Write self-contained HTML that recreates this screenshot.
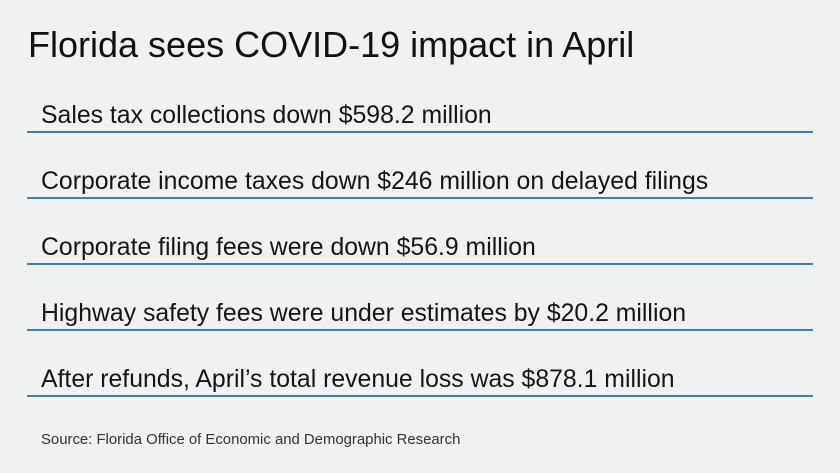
<!DOCTYPE html>
<html><head><meta charset="utf-8"><style>
body{margin:0;width:840px;height:473px;background:#f0f1f1;font-family:"Liberation Sans",sans-serif;position:relative;overflow:hidden;color:#111}
.t{position:absolute;left:28px;top:24px;font-size:36px;white-space:nowrap}
.i{position:absolute;left:41px;font-size:24.8px;white-space:nowrap;color:#151515}
.l{position:absolute;left:27px;width:786px;height:2px;background:#3f7db5}
.s{position:absolute;left:41px;top:432px;font-size:14.9px;color:#333}
</style></head><body>
<div class="t">Florida sees COVID-19 impact in April</div>
<div class="i" style="top:102px">Sales tax collections down $598.2 million</div><div class="l" style="top:131px"></div>
<div class="i" style="top:168px">Corporate income taxes down $246 million on delayed filings</div><div class="l" style="top:197px"></div>
<div class="i" style="top:234px">Corporate filing fees were down $56.9 million</div><div class="l" style="top:263px"></div>
<div class="i" style="top:300px">Highway safety fees were under estimates by $20.2 million</div><div class="l" style="top:329px"></div>
<div class="i" style="top:366px">After refunds, April’s total revenue loss was $878.1 million</div><div class="l" style="top:395px"></div>
<div class="s">Source: Florida Office of Economic and Demographic Research</div>
</body></html>
